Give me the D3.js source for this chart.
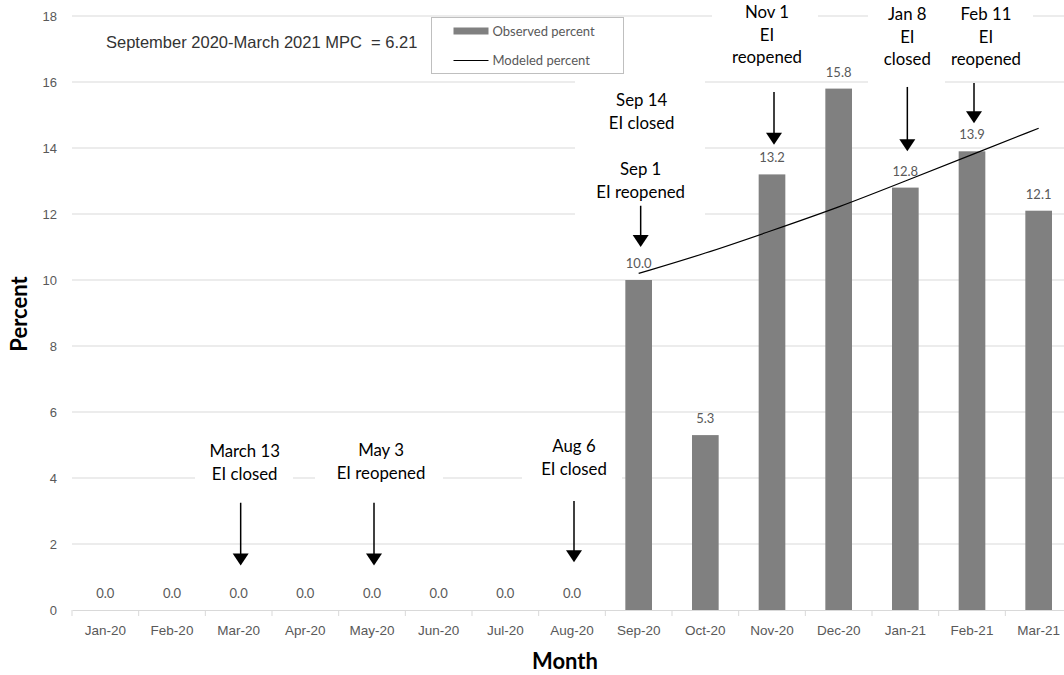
<!DOCTYPE html>
<html>
<head>
<meta charset="utf-8">
<script src="https://cdn.jsdelivr.net/npm/d3@7"></script>
<style>
  body { margin: 0; background: #fff; }
  svg { display: block; font-family: Lato, "Noto Sans", sans-serif; }
</style>
</head>
<body>
<div id="container"></div>
<script>
// chart data
const months = ["Jan-20", "Feb-20", "Mar-20", "Apr-20", "May-20", "Jun-20", "Jul-20", "Aug-20",
  "Sep-20", "Oct-20", "Nov-20", "Dec-20", "Jan-21", "Feb-21", "Mar-21"];
const observed = [0, 0, 0, 0, 0, 0, 0, 0, 10.0, 5.3, 13.2, 15.8, 12.8, 13.9, 12.1];
const modeledMonths = ["Sep-20", "Oct-20", "Nov-20", "Dec-20", "Jan-21", "Feb-21", "Mar-21"];
const modeled = [10.2, 10.8, 11.5, 12.2, 13.0, 13.8, 14.6];
const yTicks = [0, 2, 4, 6, 8, 10, 12, 14, 16, 18];
const mpcText = "September 2020-March 2021 MPC  = 6.21";

// events: month, text, arrow top / tip in percent units
const events = [
  { month: "Mar-20", lines: ["March 13", "EI closed"], top: 3.25, tip: 1.35 },
  { month: "May-20", lines: ["May 3", "EI reopened"], top: 3.25, tip: 1.35 },
  { month: "Aug-20", lines: ["Aug 6", "EI closed"], top: 3.3, tip: 1.45 },
  { month: "Sep-20", lines: ["Sep 14", "EI closed"], top: null, tip: null },
  { month: "Sep-20", lines: ["Sep 1", "EI reopened"], top: 12.25, tip: 11.0 },
  { month: "Nov-20", lines: ["Nov 1", "EI", "reopened"], top: 15.7, tip: 14.1 },
  { month: "Jan-21", lines: ["Jan 8", "EI", "closed"], top: 15.85, tip: 13.9 },
  { month: "Feb-21", lines: ["Feb 11", "EI", "reopened"], top: 15.97, tip: 14.75 }
];
// text placement for each event (pixels): x offset, first baseline, white box
const eventLayout = [
  { dx: 6, y: 457, box: [195, 293, 437, 486] },
  { dx: 9, y: 456, box: [315, 443, 437, 486] },
  { dx: 2, y: 452, box: [522, 622, 432, 482] },
  { dx: 3, y: 106, box: [575, 705, 78, 152] },
  { dx: 2, y: 175, box: [575, 705, 155, 218] },
  { dx: -5, y: 18, box: [712, 818, 0, 76] },
  { dx: 2, y: 20, box: [868, 945, 0, 86] },
  { dx: 14, y: 20, box: [945, 1033, 0, 76] }
];

const w = 1064, h = 675;
const plotLeft = 72, plotRight = 1072, plotTop = 16, plotBottom = 610;

const svg = d3.select('#container').append('svg')
  .attr('width', w).attr('height', h);

const x = d3.scaleBand().domain(months).range([plotLeft, plotRight]).padding(0);
const y = d3.scaleLinear().domain([0, 18]).range([plotBottom, plotTop]);
const barW = x.bandwidth() * 0.4;
const cx = m => x(m) + x.bandwidth() / 2;

// gridlines
svg.append('g').selectAll('line')
  .data(yTicks.filter(d => d > 0))
  .enter().append('line')
  .attr('x1', plotLeft).attr('x2', w)
  .attr('y1', d => y(d)).attr('y2', d => y(d))
  .attr('stroke', '#d9d9d9').attr('stroke-width', 1);

// y axis labels
const yAxis = d3.axisLeft(y).tickValues(yTicks).tickSize(0).tickPadding(15);
svg.append('g')
  .attr('transform', 'translate(' + plotLeft + ',0)')
  .call(yAxis)
  .call(g => g.select('.domain').remove())
  .selectAll('text')
  .attr('fill', '#595959').style('font-size', '13px');

// x axis
const xAxis = d3.axisBottom(x).tickSize(0).tickPadding(15);
const gx = svg.append('g')
  .attr('transform', 'translate(0,' + plotBottom + ')')
  .call(xAxis);
gx.select('.domain').attr('stroke', '#d9d9d9');
gx.selectAll('text').attr('fill', '#595959').style('font-size', '13.5px');
gx.selectAll('.bnd').data(months.concat(['end']))
  .enter().append('line')
  .attr('x1', (d, i) => plotLeft + i * x.step()).attr('x2', (d, i) => plotLeft + i * x.step())
  .attr('y1', 0).attr('y2', 6)
  .attr('stroke', '#d9d9d9');

// white boxes behind event text
svg.append('g').selectAll('rect')
  .data(eventLayout)
  .enter().append('rect')
  .attr('x', d => d.box[0]).attr('y', d => d.box[2])
  .attr('width', d => d.box[1] - d.box[0]).attr('height', d => d.box[3] - d.box[2])
  .attr('fill', '#fff');

// bars
svg.append('g').selectAll('rect')
  .data(observed)
  .enter().append('rect')
  .attr('x', (d, i) => cx(months[i]) - barW / 2)
  .attr('y', d => y(d))
  .attr('width', barW)
  .attr('height', d => plotBottom - y(d))
  .attr('fill', '#808080');

// value labels
svg.append('g').selectAll('text')
  .data(observed)
  .enter().append('text')
  .attr('x', (d, i) => cx(months[i]))
  .attr('y', d => y(d) - 12)
  .attr('text-anchor', 'middle')
  .attr('fill', '#595959')
  .style('font-size', '13px')
  .text(d => d.toFixed(1));

// modeled line
const line = d3.line()
  .x((d, i) => cx(modeledMonths[i]))
  .y(d => y(d))
  .curve(d3.curveBasis);
svg.append('path')
  .datum(modeled)
  .attr('d', line)
  .attr('fill', 'none')
  .attr('stroke', '#000')
  .attr('stroke-width', 1.2);

// events: text and arrows
events.forEach(function(ev, i) {
  const lay = eventLayout[i];
  const ax = cx(ev.month) + 2;
  const t = svg.append('text')
    .attr('text-anchor', 'middle')
    .attr('fill', '#000')
    .style('font-size', '16.8px');
  ev.lines.forEach(function(s, j) {
    t.append('tspan').attr('x', cx(ev.month) + lay.dx).attr('y', lay.y + j * 22.5).text(s);
  });
  if (ev.top !== null) {
    const y1 = y(ev.top), y2 = y(ev.tip);
    svg.append('line')
      .attr('x1', ax).attr('x2', ax)
      .attr('y1', y1).attr('y2', y2 - 8)
      .attr('stroke', '#000').attr('stroke-width', 1.5);
    svg.append('path')
      .attr('d', 'M' + (ax - 8) + ',' + (y2 - 12) + 'L' + (ax + 8) + ',' + (y2 - 12) + 'L' + ax + ',' + y2 + 'Z')
      .attr('fill', '#000');
  }
});

// legend
const lg = svg.append('g').attr('transform', 'translate(431.5,17.5)');
lg.append('rect').attr('width', 192).attr('height', 56)
  .attr('fill', '#fff').attr('stroke', '#bfbfbf');
lg.append('rect').attr('x', 22).attr('y', 10).attr('width', 35).attr('height', 7).attr('fill', '#808080');
lg.append('text').attr('x', 61).attr('y', 18).attr('fill', '#595959').style('font-size', '13px').text('Observed percent');
lg.append('line').attr('x1', 22).attr('x2', 57).attr('y1', 43).attr('y2', 43).attr('stroke', '#000');
lg.append('text').attr('x', 61).attr('y', 47).attr('fill', '#595959').style('font-size', '13px').text('Modeled percent');

// MPC note
svg.append('text')
  .attr('x', 106).attr('y', 48)
  .attr('fill', '#333')
  .style('font-family', '"Liberation Sans", Arial, sans-serif')
  .style('font-size', '16.5px')
  .style('white-space', 'pre')
  .text(mpcText);

// axis titles
svg.append('text')
  .attr('x', 565).attr('y', 669)
  .attr('text-anchor', 'middle')
  .style('font-size', '22px').style('font-weight', 'bold')
  .text('Month');
svg.append('text')
  .attr('transform', 'translate(27,314) rotate(-90)')
  .attr('text-anchor', 'middle')
  .style('font-size', '22px').style('font-weight', 'bold')
  .text('Percent');
</script>
</body>
</html>
